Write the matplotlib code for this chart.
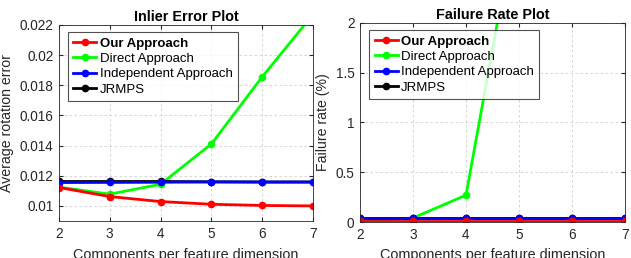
import matplotlib
matplotlib.use("Agg")
import matplotlib.pyplot as plt
from matplotlib.ticker import FuncFormatter

plt.rcParams['font.family'] = ['Liberation Sans', 'DejaVu Sans']

x = [2, 3, 4, 5, 6, 7]
labels = ["Our Approach", "Direct Approach", "Independent Approach", "JRMPS"]
colors = ["#ff0000", "#00ff00", "#0000ff", "#000000"]

# Inlier error
err_ours = [0.01122, 0.01062, 0.01029, 0.01011, 0.01003, 0.01000]
err_direct = [0.01125, 0.01078, 0.01144, 0.01411, 0.01856, 0.02270]
err_indep = [0.01155, 0.01156, 0.01157, 0.01159, 0.01158, 0.01158]
err_jrmps = [0.01162, 0.01162, 0.01162, 0.01160, 0.01159, 0.01159]

# Failure rate (%)
fail_ours = [0.01, 0.01, 0.01, 0.01, 0.01, 0.01]
fail_direct = [0.01, 0.04, 0.27, 3.2, 5.0, 7.0]
fail_indep = [0.04, 0.04, 0.04, 0.04, 0.04, 0.04]
fail_jrmps = [0.04, 0.04, 0.04, 0.04, 0.04, 0.04]

fig = plt.figure(figsize=(6.31, 2.58), dpi=100)
W, H = 631, 258
ax1 = fig.add_axes([59 / W, 1 - 221 / H, (313 - 59) / W, (221 - 25) / H])
ax2 = fig.add_axes([360 / W, 1 - 222 / H, (625 - 360) / W, (222 - 23) / H])

def style(ax):
    ax.set_xlim(2, 7)
    ax.set_xticks(x)
    ax.grid(True, linestyle=(0, (3, 3)), color="#d0d0d0", linewidth=0.6)
    ax.set_axisbelow(True)
    ax.tick_params(direction="in", length=3, labelsize=9.8, top=True, right=True,
                   labeltop=False, labelright=False, color="#262626", labelcolor="#262626",
                   pad=4)
    for s in ax.spines.values():
        s.set_color("#262626")
        s.set_linewidth(0.6)
    ax.set_xlabel("Components per feature dimension", fontsize=10.4, color="#262626", labelpad=5)

series1 = [err_ours, err_direct, err_indep, err_jrmps]
series2 = [fail_ours, fail_direct, fail_indep, fail_jrmps]
order = [1, 3, 2, 0]
for ax, series in ((ax1, series1), (ax2, series2)):
    handles = [None] * 4
    for i in order:
        h, = ax.plot(x, series[i], color=colors[i], linewidth=2, marker="o",
                     markersize=4.5, label=labels[i])
        handles[i] = h
    style(ax)
    leg = ax.legend(handles, labels, loc="upper left", fontsize=9.5, frameon=True,
                    fancybox=False, edgecolor="#262626", borderpad=0.4,
                    handlelength=1.75, handletextpad=0.25, labelspacing=0.24,
                    borderaxespad=0, bbox_to_anchor=(0.035, 0.964))
    leg.get_frame().set_linewidth(0.8)
    leg.get_texts()[0].set_fontweight("bold")

ax1.set_ylim(0.009, 0.022)
ax1.set_yticks([0.01, 0.012, 0.014, 0.016, 0.018, 0.02, 0.022])
ax1.yaxis.set_major_formatter(FuncFormatter(lambda v, p: ("%.3f" % v).rstrip("0")))
ax1.set_ylabel("Average rotation error", fontsize=10.2, color="#262626", labelpad=4)
ax1.set_title("Inlier Error Plot", fontsize=10.4, fontweight="bold", pad=3)

ax2.set_ylim(0, 2)
ax2.set_yticks([0, 0.5, 1, 1.5, 2])
ax2.yaxis.set_major_formatter(FuncFormatter(lambda v, p: ("%g" % v)))
ax2.set_ylabel("Failure rate (%)", fontsize=10.2, color="#262626", labelpad=4)
ax2.set_title("Failure Rate Plot", fontsize=10.4, fontweight="bold", pad=3)

fig.savefig("out.png", dpi=100)
